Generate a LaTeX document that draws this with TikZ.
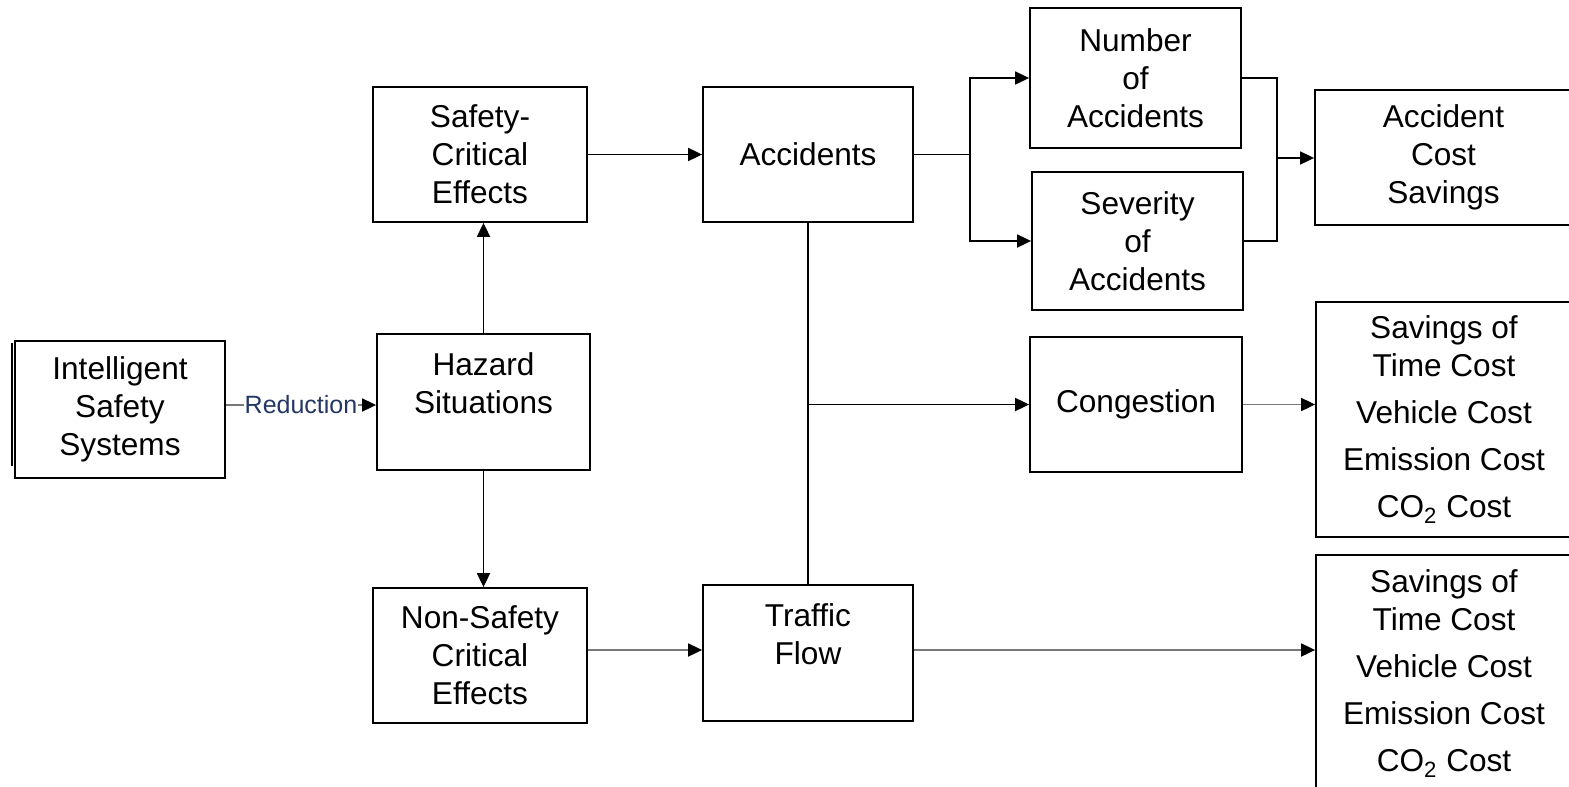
\documentclass[tikz,border=0pt]{standalone}
\usepackage{fontspec}
\setmainfont{Liberation Sans}
\usetikzlibrary{arrows.meta,calc}
\definecolor{lnGray}{RGB}{120,120,120}
\definecolor{lblBlue}{RGB}{35,55,100}
\begin{document}
\begin{tikzpicture}[x=0.5pt,y=-0.5pt,
  box/.style={draw,line width=0.9pt,inner sep=0pt,align=center,
    font=\fontsize{15.8}{19}\selectfont},
  conn/.style={line width=0.9pt},
  arr/.style={conn,-{Triangle[length=7pt,width=6.5pt,color=black]}},
  garr/.style={arr,draw=lnGray}]
\useasboundingbox (0,0) rectangle (1569,787);

\node[box,minimum width=105pt,minimum height=68.5pt] (iss) at (120,409.5) {Intelligent\\Safety\\Systems};
\node[box,minimum width=106.5pt,minimum height=68pt] (haz) at (483.5,402) {Hazard\\Situations\\~};
\node[box,minimum width=107pt,minimum height=67.5pt] (sce) at (480,154.5) {Safety-\\Critical\\Effects};
\node[box,minimum width=105pt,minimum height=67.5pt] (acc) at (808,154.5) {Accidents};
\node[box,minimum width=105.5pt,minimum height=70pt] (num) at (1135.5,78) {Number\\of\\Accidents};
\node[box,minimum width=105.5pt,minimum height=69pt] (sev) at (1137.5,241) {Severity\\of\\Accidents};
\node[box,minimum width=128.5pt,minimum height=67.5pt] (acs) at (1443.5,157.5) {Accident\\Cost\\Savings};
\node[box,minimum width=106pt,minimum height=67.5pt] (cong) at (1136,404.5) {Congestion};
\node[box,minimum width=128pt,minimum height=117.5pt] (sav1) at (1444,419.5)
  {Savings of\\Time Cost\\[4.5pt]Vehicle Cost\\[4.5pt]Emission Cost\\[4.5pt]CO\textsubscript{2} Cost};
\node[box,minimum width=128pt,minimum height=118.5pt] (sav2) at (1444,673.5)
  {Savings of\\Time Cost\\[4.5pt]Vehicle Cost\\[4.5pt]Emission Cost\\[4.5pt]CO\textsubscript{2} Cost};
\node[box,minimum width=107pt,minimum height=67.5pt] (ns) at (480,655.5) {Non-Safety\\Critical\\Effects};
\node[box,minimum width=105pt,minimum height=68pt] (tf) at (808,653) {Traffic\\Flow\\~};

% shadow line on the left of the first box
\draw[line width=1pt] ($(iss.north west)+(-2,3)$) -- ($(iss.south west)+(-2,-13)$);

% connectors
\draw[garr] (iss.east |- 0,405) -- node[fill=white,inner sep=0.5pt,text=lblBlue,
  font=\fontsize{12.5}{14}\selectfont] (red) {Reduction} (haz.west |- 0,405);
\draw[arr] (haz.north) -- (haz.north |- sce.south);
\draw[arr] (haz.south) -- (haz.south |- ns.north);
\draw[arr] (sce.east) -- (sce.east -| acc.west);

\coordinate (br) at (970,154.5);
\draw[conn] (acc.east) -- (br);
\draw[arr] (br) |- (num.west);
\draw[arr] (br) |- (sev.west);

\coordinate (mg) at (1277,158);
\draw[conn] (num.east) -| (mg);
\draw[conn] (sev.east) -| (mg);
\draw[arr] (mg) -- (mg -| acs.west);

\draw[conn] (acc.south) -- (tf.north);
\draw[arr] (acc.south |- cong.west) -- (cong.west);
\draw[garr] (cong.east) -- (cong.east -| sav1.west);

\draw[garr] (ns.east |- 0,650) -- (tf.west |- 0,650);
\draw[garr] (tf.east |- 0,650) -- (sav2.west |- 0,650);
\end{tikzpicture}
\end{document}
